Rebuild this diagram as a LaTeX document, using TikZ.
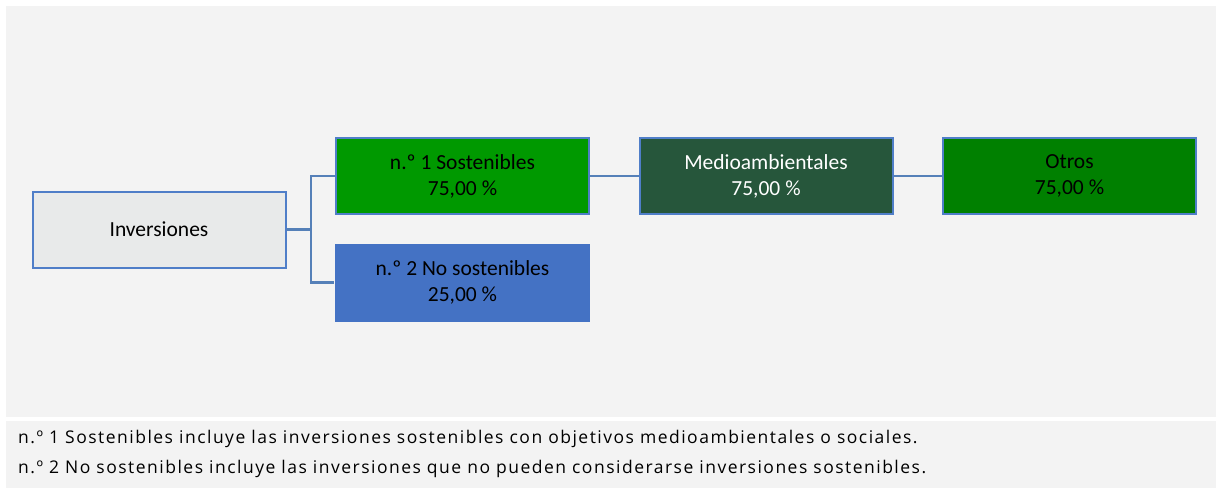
\documentclass[tikz,border=0pt]{standalone}
\usepackage{fontspec}
\setmainfont{Carlito}
\newfontfamily\footfont[LetterSpace=8.5]{Open Sans}
\definecolor{bgpanel}{HTML}{F3F3F3}
\definecolor{bordblue}{HTML}{4F7EC8}
\definecolor{linkblue}{HTML}{5580B8}
\definecolor{invfill}{HTML}{E8EAEA}
\definecolor{sosfill}{HTML}{009900}
\definecolor{nosfill}{HTML}{4472C4}
\definecolor{medfill}{HTML}{26563B}
\definecolor{otrfill}{HTML}{008000}
\begin{document}
\begin{tikzpicture}[x=1pt,y=-1pt,
  boxst/.style={draw=bordblue,line width=2pt,minimum width=253pt,minimum height=76pt,inner sep=0pt,align=center,font=\fontsize{21.5}{26}\selectfont},
  link/.style={draw=linkblue,line width=2.2pt,line join=miter},
  foot/.style={anchor=west,inner sep=0pt,font=\footfont\fontsize{17.5}{18}\selectfont}]
\useasboundingbox (0,0) rectangle (1221,488);
\fill[white] (0,0) rectangle (1221,488);
\fill[bgpanel] (6,6) rectangle (1216,417);
\fill[bgpanel] (6,421) rectangle (1216,488);
\node[boxst,fill=invfill,minimum width=253pt] (inv) at (159,229.5) {Inversiones};
\node[boxst,fill=sosfill] (sos) at (462.5,176) {n.º 1 Sostenibles\\75,00 \%};
\node[boxst,fill=nosfill,draw=none,minimum width=255pt,minimum height=78pt] (nos) at (462.5,282.5) {n.º 2 No sostenibles\\25,00 \%};
\node[boxst,fill=medfill,text=white] (med) at (766,176) {Medioambientales\\75,00 \%};
\node[boxst,fill=otrfill] (otr) at (1069.5,176) {Otros\\75,00 \%};
\coordinate (j) at (311,229.5);
\draw[link] (inv.east) -- (j);
\draw[link] (sos.west) -| (j) |- (nos.west);
\draw[link] (sos.east) -- (med.west);
\draw[link] (med.east) -- (otr.west);
\node[foot] (f1) at (18,439) {n.º 1 Sostenibles incluye las inversiones sostenibles con objetivos medioambientales o sociales.};
\node[foot] (f2) at (18,469) {n.º 2 No sostenibles incluye las inversiones que no pueden considerarse inversiones sostenibles.};
\end{tikzpicture}
\end{document}
